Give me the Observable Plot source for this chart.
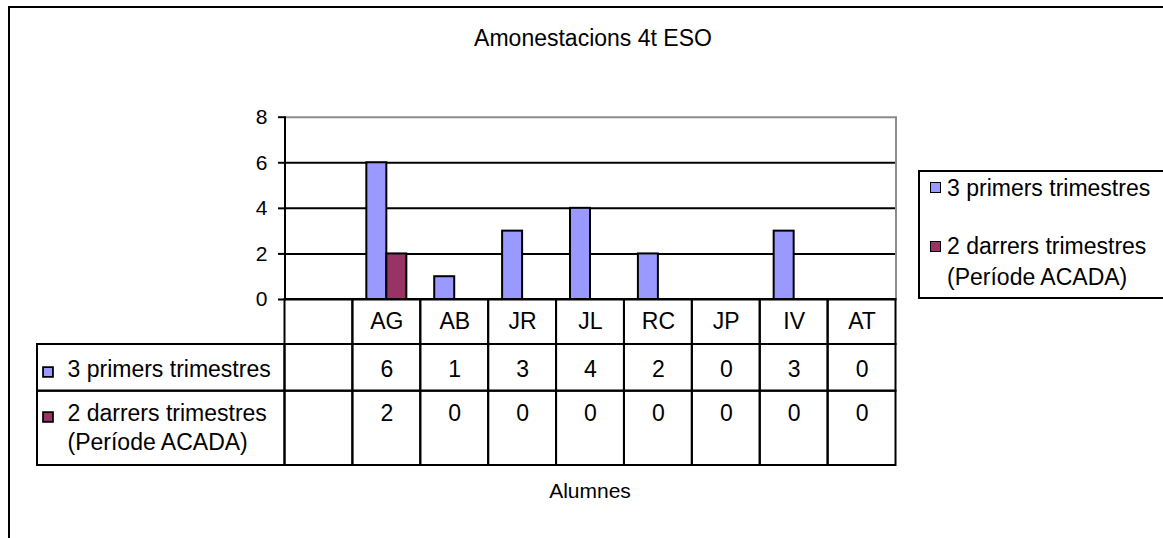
<!DOCTYPE html>
<html>
<head>
<meta charset="utf-8">
<script src="https://cdn.jsdelivr.net/npm/d3@7"></script>
<script src="https://cdn.jsdelivr.net/npm/@observablehq/plot@0.6"></script>
<style>
  html, body { margin: 0; padding: 0; background: #fff; }
  #wrap { position: relative; width: 1163px; height: 538px; overflow: hidden; background: #fff;
          font-family: "Liberation Sans", Arial, sans-serif; color: #000; }
  #outer { position: absolute; left: 7.5px; top: 6px; width: 1400px; height: 800px;
           border: 2.5px solid #000; box-sizing: border-box; }
  .abs { position: absolute; white-space: nowrap; }
  #title { left: 393px; width: 400px; top: 27px; font-size: 23px; line-height: 23px; text-align: center; }
  #xlabel { left: 490px; width: 200px; top: 480px; font-size: 21px; line-height: 21px; text-align: center; }
  #legendBox { left: 918px; top: 170px; width: 400px; height: 129px; border: 2px solid #000; box-sizing: border-box; }
  .lkey { width: 11px; height: 11px; border: 1.8px solid #000; box-sizing: border-box; }
  .ltext { font-size: 23px; line-height: 23px; }
  #chart, #table { position: absolute; left: 0; }
  #chart { top: 0; }
  #table { top: 290px; }
</style>
</head>
<body>
<div id="wrap">
  <div id="outer"></div>
  <div id="title" class="abs"></div>
  <div id="chart"></div>
  <div id="table"></div>
  <div id="legendBox" class="abs"></div>
  <div id="legend"></div>
  <div id="xlabel" class="abs"></div>
</div>
<script>
// ---------------- data ----------------
const title = "Amonestacions 4t ESO";
const xTitle = "Alumnes";
const categories = ["", "AG", "AB", "JR", "JL", "RC", "JP", "IV", "AT"];
const students = ["AG", "AB", "JR", "JL", "RC", "JP", "IV", "AT"];
const primers = [6, 1, 3, 4, 2, 0, 3, 0];
const darrers = [2, 0, 0, 0, 0, 0, 0, 0];
const seriesLabels = ["3 primers trimestres", "2 darrers trimestres\n(Període ACADA)"];
const seriesColors = ["#9999FF", "#993366"];
const yTicks = [0, 2, 4, 6, 8];
const yDomain = [0, 8];

// ---------------- layout ----------------
const W = 1163;
const M = { left: 284.5, right: 267.5 };
const frameW = W - M.left - M.right;
const bw = frameW / categories.length;
const barW = 20;
const labelColLeft = 37;
const labelColW = M.left - labelColLeft;
const rowEdges = [0, 45, 91.7, 166];   // table row boundaries (px below the zero line)
const font = '"Liberation Sans", Arial, sans-serif';

document.getElementById("title").textContent = title;
document.getElementById("xlabel").textContent = xTitle;

const rows = students.map((s, i) => ({ s, v1: primers[i], v2: darrers[i] }));

// ---------------- chart ----------------
const chart = Plot.plot({
  width: W, height: 302,
  marginLeft: M.left, marginRight: M.right, marginTop: 116.7, marginBottom: 3,
  style: { fontFamily: font, fontSize: "21px", color: "#000", background: "transparent", overflow: "visible" },
  x: { type: "band", domain: categories, padding: 0, round: false, axis: null },
  y: { domain: yDomain },
  marks: [
    Plot.ruleY(yTicks.filter(t => t > yDomain[0] && t < yDomain[1]), { stroke: "#000", strokeWidth: 2 }),
    Plot.ruleY([yDomain[1]], { stroke: "#8c8c8c", strokeWidth: 2 }),
    Plot.frame({ anchor: "right", stroke: "#8c8c8c", strokeWidth: 2 }),
    Plot.barY(rows.filter(d => d.v1 > 0), {
      x: "s", y: "v1", fill: seriesColors[0], stroke: "#000", strokeWidth: 2,
      insetLeft: bw / 2 - barW, insetRight: bw / 2
    }),
    Plot.barY(rows.filter(d => d.v2 > 0), {
      x: "s", y: "v2", fill: seriesColors[1], stroke: "#000", strokeWidth: 2,
      insetLeft: bw / 2, insetRight: bw / 2 - barW
    }),
    Plot.ruleY([0], { stroke: "#000", strokeWidth: 2 }),
    Plot.frame({ anchor: "left", stroke: "#000", strokeWidth: 2 }),
    Plot.axisY({ ticks: yTicks, tickSize: 6.5, tickPadding: 11, fontSize: 21, strokeWidth: 2,
                 label: null, tickFormat: d => String(d) })
  ]
});
document.getElementById("chart").append(chart);

// ---------------- data table ----------------
const cells = [];
for (let r = 0; r < 3; r++) for (const c of categories) cells.push({ c, y1: rowEdges[r], y2: rowEdges[r + 1] });
const labelRows = [
  { y1: rowEdges[1], y2: rowEdges[2] },
  { y1: rowEdges[2], y2: rowEdges[3] }
];
const textBase = { header: 29.3, s1: 77, s2: 121.5, s2last: 150 };
const keyY = [72.5, 117.5];

const table = Plot.plot({
  width: W, height: 190,
  marginLeft: M.left, marginRight: M.right, marginTop: 9, marginBottom: 15,
  style: { fontFamily: font, fontSize: "23px", color: "#000", background: "transparent", overflow: "visible" },
  x: { type: "band", domain: categories, padding: 0, round: false, axis: null },
  y: { domain: [0, 166], range: [9, 175], axis: null },
  marks: [
    Plot.rect(labelRows, { y1: "y1", y2: "y2", insetLeft: -labelColW, insetRight: frameW,
                           fill: "none", stroke: "#000", strokeWidth: 2 }),
    Plot.barY(cells, { x: "c", y1: "y1", y2: "y2", fill: "none", stroke: "#000", strokeWidth: 2 }),
    Plot.text(students, { x: d => d, y: textBase.header, text: d => d, lineAnchor: "bottom", fontSize: 23 }),
    Plot.text(rows, { x: "s", y: textBase.s1, text: d => String(d.v1), lineAnchor: "bottom", fontSize: 23 }),
    Plot.text(rows, { x: "s", y: textBase.s2, text: d => String(d.v2), lineAnchor: "bottom", fontSize: 23 }),
    Plot.text([seriesLabels[0]], { frameAnchor: "left", dx: -labelColW + 30, y: textBase.s1, text: d => d,
                                   textAnchor: "start", lineAnchor: "bottom", fontSize: 23 }),
    Plot.text([seriesLabels[1]], { frameAnchor: "left", dx: -labelColW + 30, y: textBase.s2last, text: d => d,
                                   textAnchor: "start", lineAnchor: "bottom", lineHeight: 1.23, fontSize: 23 }),
    Plot.dot([0], { frameAnchor: "left", dx: -labelColW + 10.5, y: keyY[0], symbol: "square", r: 5.6,
                    fill: seriesColors[0], stroke: "#000", strokeWidth: 1.8 }),
    Plot.dot([1], { frameAnchor: "left", dx: -labelColW + 10.5, y: keyY[1], symbol: "square", r: 5.6,
                    fill: seriesColors[1], stroke: "#000", strokeWidth: 1.8 })
  ]
});
document.getElementById("table").append(table);

// ---------------- legend ----------------
const legend = document.getElementById("legend");
const legendItems = [
  { key: [930, 182], lines: [[947, 196]] },
  { key: [930, 241], lines: [[947, 254], [947, 285]] }
];
legendItems.forEach((it, i) => {
  const k = document.createElement("div");
  k.className = "abs lkey";
  k.style.left = it.key[0] + "px"; k.style.top = it.key[1] + "px";
  k.style.background = seriesColors[i];
  legend.append(k);
  seriesLabels[i].split("\n").forEach((line, j) => {
    const t = document.createElement("div");
    t.className = "abs ltext";
    t.style.left = it.lines[j][0] + "px";
    t.style.top = (it.lines[j][1] - 19.5) + "px";
    t.textContent = line;
    legend.append(t);
  });
});
</script>
</body>
</html>
